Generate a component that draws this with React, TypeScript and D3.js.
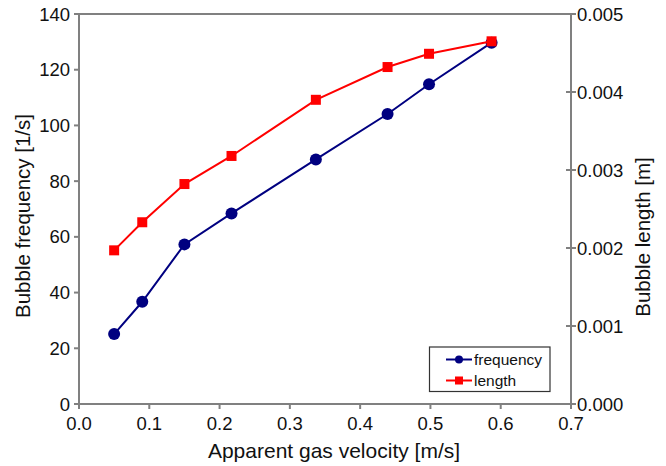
import React from "react";
import * as d3 from "d3";

const velocity = [0.05, 0.09, 0.15, 0.217, 0.337, 0.439, 0.498, 0.587];
const frequency = [25.1, 36.7, 57.3, 68.4, 87.8, 104.1, 114.8, 129.7];
const bubbleLength = [0.00197, 0.00233, 0.00282, 0.00318, 0.0039, 0.00432, 0.00449, 0.00465];
const xTicks = [0, 0.1, 0.2, 0.3, 0.4, 0.5, 0.6, 0.7];
const yLeftTicks = [0, 20, 40, 60, 80, 100, 120, 140];
const yRightTicks = [0, 0.001, 0.002, 0.003, 0.004, 0.005];

const W = 666, H = 466;
const L = 79, R = 571, T = 14, B = 404;
const AXIS = "#808080";
const FONT = "'Liberation Sans', Arial, sans-serif";

export default function App() {
  const x = d3.scaleLinear().domain([0, 0.7]).range([L, R]);
  const yL = d3.scaleLinear().domain([0, 140]).range([B, T]);
  const yR = d3.scaleLinear().domain([0, 0.005]).range([B, T]);

  const freqLine = d3.line<number>().x((_, i) => x(velocity[i])).y((d) => yL(d))(frequency) || "";
  const lenLine = d3.line<number>().x((_, i) => x(velocity[i])).y((d) => yR(d))(bubbleLength) || "";

  return (
    <svg width={W} height={H} style={{ position: "absolute", left: 0, top: 0, background: "#fff" }} fontFamily={FONT}>
      <rect x={0} y={0} width={W} height={H} fill="#fff" />
      {/* frame */}
      <line x1={L} x2={R} y1={T} y2={T} stroke={AXIS} strokeWidth={2} />
      <line x1={L} x2={R} y1={B} y2={B} stroke={AXIS} strokeWidth={2} />
      <line x1={L} x2={L} y1={T - 1} y2={B + 1} stroke={AXIS} strokeWidth={2} />
      <line x1={R} x2={R} y1={T - 1} y2={B + 1} stroke={AXIS} strokeWidth={2} />

      {/* x ticks */}
      {xTicks.map((t) => (
        <g key={"x" + t}>
          <line x1={x(t)} x2={x(t)} y1={B} y2={B + 5} stroke={AXIS} strokeWidth={2} />
          <text x={x(t)} y={429.5} textAnchor="middle" fontSize={18.5} fill="#111">{t.toFixed(1)}</text>
        </g>
      ))}
      {/* left ticks */}
      {yLeftTicks.map((t) => (
        <g key={"l" + t}>
          <line x1={L - 5} x2={L} y1={yL(t)} y2={yL(t)} stroke={AXIS} strokeWidth={2} />
          <text x={70} y={yL(t) + 6.5} textAnchor="end" fontSize={18.5} fill="#111">{t}</text>
        </g>
      ))}
      {/* right ticks */}
      {yRightTicks.map((t) => (
        <g key={"r" + t}>
          <line x1={R - 5} x2={R + 5} y1={yR(t)} y2={yR(t)} stroke={AXIS} strokeWidth={2} />
          <text x={577} y={yR(t) + 6.5} textAnchor="start" fontSize={18.5} fill="#111">{t.toFixed(3)}</text>
        </g>
      ))}

      {/* titles */}
      <text x={334} y={458} textAnchor="middle" fontSize={21} fill="#111">Apparent gas velocity [m/s]</text>
      <text transform={`translate(30,216) rotate(-90)`} textAnchor="middle" fontSize={20.5} fill="#111">Bubble frequency [1/s]</text>
      <text transform={`translate(650,237) rotate(-90)`} textAnchor="middle" fontSize={20.5} fill="#111">Bubble length [m]</text>

      {/* series */}
      <path d={freqLine} fill="none" stroke="#000080" strokeWidth={2} />
      {frequency.map((d, i) => (
        <circle key={"c" + i} cx={x(velocity[i])} cy={yL(d)} r={6} fill="#000080" />
      ))}
      <path d={lenLine} fill="none" stroke="#ff0000" strokeWidth={2} />
      {bubbleLength.map((d, i) => (
        <rect key={"s" + i} x={x(velocity[i]) - 5} y={yR(d) - 5} width={10} height={10} fill="#ff0000" />
      ))}

      {/* legend */}
      <rect x={429.5} y={347} width={120.5} height={44.5} fill="#fff" stroke="#333" strokeWidth={1.2} />
      <line x1={446} x2={472} y1={359.5} y2={359.5} stroke="#000080" strokeWidth={2} />
      <circle cx={459} cy={359.5} r={4} fill="#000080" />
      <text x={474} y={365} fontSize={15.5} fill="#111">frequency</text>
      <line x1={446} x2={472} y1={380.5} y2={380.5} stroke="#ff0000" strokeWidth={2} />
      <rect x={455} y={376.5} width={8} height={8} fill="#ff0000" />
      <text x={474} y={386} fontSize={15.5} fill="#111">length</text>
    </svg>
  );
}
